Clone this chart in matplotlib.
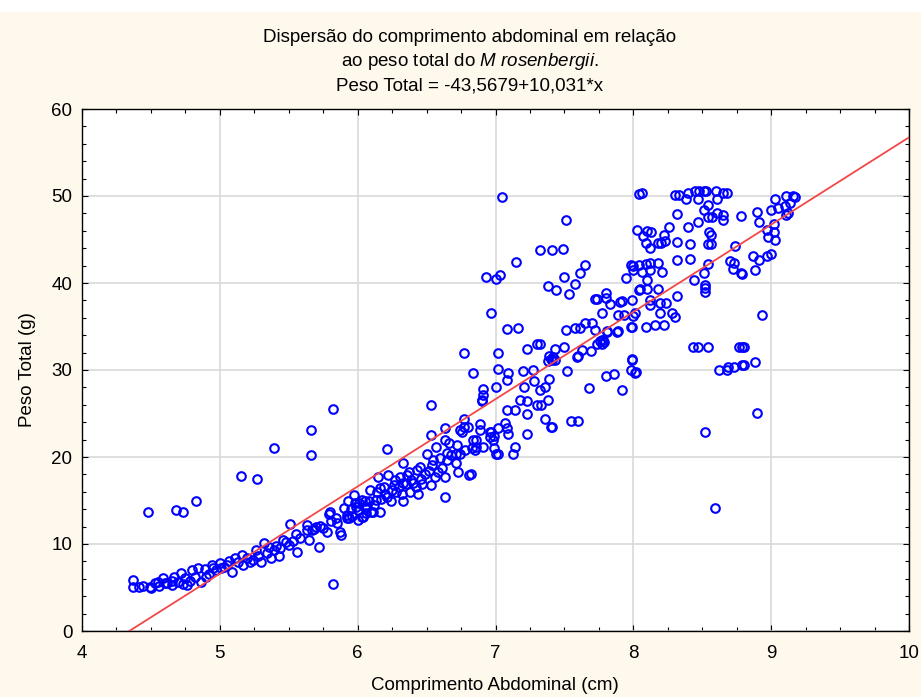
import numpy as np
import matplotlib
matplotlib.use("Agg")
import matplotlib.pyplot as plt
from matplotlib.ticker import MultipleLocator
from matplotlib.patches import Rectangle

plt.rcParams["font.family"] = ["Liberation Sans", "DejaVu Sans"]
plt.rcParams["mathtext.fontset"] = "custom"
plt.rcParams["mathtext.rm"] = "Liberation Sans"
plt.rcParams["mathtext.it"] = "Liberation Sans:italic"

# comprimento abdominal (cm) / peso total (g)
comprimento = [
    4.37, 4.37, 4.41, 4.44, 4.49, 4.50, 4.53, 4.55, 4.56, 4.59, 4.60, 4.62, 4.65, 4.65,
    4.67, 4.70, 4.72, 4.73, 4.75, 4.76, 4.78, 4.80, 4.82, 4.84, 4.86, 4.89, 4.90, 4.92,
    4.94, 4.95, 4.97, 5.00,
    4.48, 4.68, 4.735, 4.83, 5.15, 5.27, 5.39,
    5.01, 5.03, 5.05, 5.07, 5.09, 5.11, 5.13, 5.16, 5.17, 5.20, 5.22, 5.24, 5.26, 5.28,
    5.30, 5.32, 5.34, 5.36, 5.37, 5.39, 5.41, 5.43, 5.44, 5.46, 5.48, 5.50, 5.51, 5.53,
    5.55, 5.56, 5.58, 5.63, 5.63, 5.65, 5.67, 5.68, 5.70, 5.72, 5.73, 5.75, 5.78, 5.79,
    5.80, 5.81, 5.82, 5.84, 5.85, 5.87, 5.88, 5.90, 5.92, 5.92,
    5.66, 5.66, 5.82,
    5.93, 5.94, 5.95, 5.96, 5.97, 5.98, 5.99, 6.00, 6.00, 6.01, 6.03, 6.03, 6.04, 6.05,
    6.05, 6.06, 6.07, 6.08, 6.09, 6.10, 6.11, 6.12, 6.13, 6.14, 6.15, 6.16, 6.16, 6.17,
    6.19, 6.20, 6.21, 6.22, 6.24, 6.25, 6.26, 6.27, 6.28, 6.30, 6.31, 6.32, 6.33, 6.33,
    6.33, 6.35, 6.36, 6.37, 6.38, 6.39, 6.40, 6.42, 6.43, 6.44, 6.45, 6.46, 6.47, 6.49,
    6.50, 6.52, 6.53, 6.54, 6.55, 6.56, 6.57, 6.58,
    6.21, 6.53, 6.53, 6.63,
    6.60, 6.61, 6.63, 6.63, 6.63, 6.65, 6.65, 6.66, 6.68, 6.71, 6.71, 6.72, 6.73, 6.74,
    6.74, 6.76, 6.77, 6.77, 6.78, 6.80, 6.81, 6.82, 6.83, 6.84, 6.85, 6.86, 6.86, 6.89,
    6.89, 6.90, 6.91, 6.96, 6.96, 6.97, 6.98, 6.99, 6.99, 7.00,
    6.77, 6.84, 6.90, 6.91, 6.91, 6.93, 6.97, 7.00, 7.00, 7.02, 7.02, 7.02, 7.02, 7.03,
    7.05, 7.07, 7.08, 7.08, 7.08, 7.08, 7.09, 7.09, 7.13, 7.14, 7.14, 7.15, 7.16, 7.18,
    7.20, 7.21, 7.23, 7.23, 7.23, 7.23, 7.27, 7.28, 7.30, 7.30, 7.32, 7.32, 7.33, 7.32,
    7.36, 7.36, 7.38, 7.38, 7.39, 7.40, 7.41, 7.41, 7.44, 7.43,
    7.38, 7.40, 7.42, 7.43, 7.39, 7.41,
    7.49, 7.50, 7.50, 7.51, 7.51, 7.52, 7.53, 7.55, 7.58, 7.58, 7.59, 7.60, 7.61, 7.61,
    7.63, 7.65, 7.65, 7.68, 7.69, 7.70, 7.72, 7.72, 7.74, 7.77, 7.77, 7.80, 7.80, 7.80,
    7.81, 7.81, 7.83, 7.86, 7.88, 7.89, 7.89, 7.90, 7.92, 7.92, 7.93, 7.95, 7.98, 7.98,
    7.98, 7.99, 7.99, 7.99, 7.99, 8.00, 8.00, 8.00, 8.01, 8.01, 8.02, 8.03, 8.04, 8.04,
    8.04, 8.05, 8.06, 8.06, 8.07, 8.09, 8.09, 8.09, 8.10, 8.10, 8.10,
    7.74, 7.76, 7.78, 7.77, 7.79, 7.60,
    8.12, 8.12, 8.12, 8.12, 8.12, 8.13, 8.16, 8.18, 8.18, 8.18, 8.19, 8.19, 8.20, 8.21,
    8.22, 8.22, 8.23, 8.24, 8.26, 8.28, 8.30, 8.30, 8.32, 8.32, 8.32, 8.32, 8.33, 8.38,
    8.40, 8.40, 8.41, 8.41, 8.43, 8.44, 8.45, 8.47, 8.47, 8.47, 8.48, 8.51, 8.51, 8.51,
    8.52, 8.52, 8.52, 8.52, 8.53, 8.54, 8.54, 8.54, 8.54, 8.54, 8.55, 8.56, 8.56, 8.57,
    8.59, 8.60, 8.61, 8.61, 8.62, 8.65, 8.65, 8.65, 8.68, 8.68, 8.69, 8.70, 8.72, 8.73,
    8.73, 8.74, 8.77, 8.78, 8.78, 8.79, 8.79, 8.79, 8.80, 8.80,
    8.87, 8.88, 8.88, 8.90, 8.90, 8.91, 8.91, 8.93, 8.97, 8.97, 8.98, 9.00, 9.00, 9.02,
    9.02, 9.03, 9.03, 9.05, 9.10, 9.11, 9.11, 9.14, 9.16, 9.17, 9.12,
]
peso = [
    5.86, 5.10, 5.10, 5.17, 5.10, 5.00, 5.50, 5.60, 5.17, 6.06, 5.50, 5.50, 5.30, 5.80,
    6.25, 5.67, 6.70, 5.40, 6.06, 5.30, 5.80, 7.00, 6.25, 7.20, 5.67, 7.10, 6.20, 6.60,
    7.60, 7.20, 7.00, 7.80,
    13.7, 13.9, 13.7, 14.9, 17.85, 17.5, 21.0,
    7.2, 7.3, 7.6, 8.0, 6.8, 8.36, 7.9, 8.7, 7.6, 8.4, 7.9, 8.16, 9.3, 8.6,
    7.97, 10.1, 9.0, 9.7, 8.4, 9.3, 9.8, 8.6, 9.5, 10.5, 10.2, 9.9, 12.3, 10.4,
    11.2, 9.1, 10.65, 11.6, 12.2, 10.5, 11.6, 11.7, 12.0, 9.6, 12.1, 11.8, 11.4, 13.5,
    13.7, 12.6, 5.4, 12.95, 12.4, 11.4, 11.0, 14.1, 12.95, 13.3,
    23.1, 20.2, 25.5,
    15.0, 12.95, 14.0, 13.2, 15.6, 14.7, 14.3, 13.9, 12.8, 14.7, 15.1, 13.1, 13.1, 14.9,
    14.2, 13.6, 14.3, 15.0, 16.2, 13.7, 13.7, 14.5, 15.1, 16.0, 17.7, 13.7, 16.4, 15.2,
    16.6, 15.8, 15.4, 17.9, 14.9, 16.2, 16.8, 17.3, 16.0, 16.5, 17.7, 15.7, 17.0, 14.9,
    19.3, 16.9, 17.9, 18.3, 16.0, 17.4, 17.0, 16.5, 18.5, 15.8, 18.8, 17.5, 16.9, 18.1,
    20.4, 18.4, 16.8, 19.1, 19.6, 17.7, 21.2, 18.3,
    20.9, 26.0, 22.5, 15.4,
    19.85, 18.7, 17.7, 23.3, 21.95, 19.65, 20.5, 21.6, 20.2, 19.3, 20.4, 21.4, 18.3, 20.4,
    23.1, 22.9, 23.5, 24.4, 20.8, 23.5, 17.9, 18.05, 21.0, 21.95, 20.8, 21.2, 21.95, 23.1,
    23.8, 26.4, 21.2, 22.3, 22.9, 22.9, 21.95, 21.0, 22.4, 20.4,
    31.9, 29.7, 26.6, 27.8, 27.1, 40.7, 36.5, 28.1, 40.5, 31.9, 30.1, 20.4, 23.3, 40.9,
    49.9, 23.9, 23.3, 34.7, 28.8, 25.4, 29.7, 22.7, 20.3, 21.2, 25.4, 42.45, 34.8, 26.6,
    29.9, 28.1, 32.4, 26.4, 25.0, 22.7, 30.0, 28.7, 32.95, 26.0, 32.95, 27.7, 26.0, 43.8,
    28.0, 24.4, 26.6, 39.6, 29.0, 23.5, 23.5, 43.8, 39.2, 32.4,
    31.0, 31.3, 31.5, 31.1, 31.6, 31.2,
    43.9, 32.6, 40.7, 34.6, 47.2, 29.9, 38.7, 24.1, 34.8, 39.9, 31.5, 24.1, 34.8, 41.1,
    32.3, 35.4, 42.1, 27.9, 32.2, 35.4, 34.6, 38.2, 38.2, 36.5, 33.4, 38.8, 38.3, 29.3,
    34.4, 34.5, 37.55, 29.5, 34.4, 34.5, 36.3, 37.8, 37.9, 27.7, 36.3, 40.6, 35.0, 42.1,
    30.0, 31.2, 31.3, 38.0, 35.0, 36.2, 41.5, 41.9, 36.5, 29.7, 29.8, 46.1, 42.1, 50.2,
    39.2, 39.3, 41.3, 50.3, 45.4, 44.6, 42.2, 35.0, 46.0, 40.4, 39.3,
    33.0, 33.3, 33.5, 33.0, 33.2, 31.6,
    44.0, 42.3, 41.5, 38.1, 37.5, 45.9, 35.2, 44.65, 42.3, 39.3, 37.7, 36.5, 44.6, 41.3,
    45.5, 35.2, 44.8, 37.7, 46.4, 36.6, 36.1, 50.1, 47.9, 44.75, 42.6, 38.5, 50.1, 49.7,
    50.4, 46.4, 44.5, 42.8, 32.6, 40.3, 50.6, 49.7, 47.05, 32.6, 50.6, 50.6, 48.4, 41.1,
    39.8, 39.4, 39.0, 22.9, 50.6, 48.97, 47.6, 44.5, 42.2, 32.6, 45.9, 45.5, 44.5, 47.6,
    14.1, 50.6, 49.7, 48.0, 30.0, 50.4, 47.8, 47.2, 50.4, 30.0, 30.4, 42.5, 41.6, 42.3,
    30.4, 44.2, 32.6, 47.7, 41.1, 32.6, 30.6, 41.0, 32.7, 30.6,
    43.1, 41.5, 30.9, 48.2, 25.1, 47.05, 42.7, 36.3, 46.1, 43.1, 45.3, 48.4, 43.3, 45.9,
    46.8, 45.0, 49.7, 48.6, 48.8, 50.0, 47.8, 49.2, 50.0, 49.9, 48.0,
]

# fitted line: Peso Total = -43,5679 + 10,031*x
intercepto = -43.5679
inclinacao = 10.031

cream = "#fff8ec"
fs = 13.5
fig = plt.figure(figsize=(9.21, 6.97), dpi=100, facecolor=cream)
fig.patches.append(Rectangle((0, 1 - 12 / 697), 1, 12 / 697, transform=fig.transFigure,
                             facecolor="white", edgecolor="none", zorder=0))
ax = fig.add_axes([82 / 921, 1 - 631 / 697, 827 / 921, 522 / 697])
ax.set_facecolor("white")

ax.plot(comprimento, peso, linestyle="none", marker="o", markersize=6.2,
        markerfacecolor="none", markeredgecolor="#0000ff", markeredgewidth=1.5, zorder=3)

xl = np.array([-intercepto / inclinacao, 10.0])
ax.plot(xl, intercepto + inclinacao * xl, color="#f24848", linewidth=1.3, zorder=4)

ax.set_xlim(4, 10)
ax.set_ylim(0, 60)
ax.xaxis.set_major_locator(MultipleLocator(1))
ax.xaxis.set_minor_locator(MultipleLocator(0.25))
ax.yaxis.set_major_locator(MultipleLocator(10))
ax.yaxis.set_minor_locator(MultipleLocator(2))
ax.tick_params(which="both", direction="in", top=True, right=True, width=0.8, colors="black")
ax.tick_params(which="major", length=4, labelsize=fs)
ax.tick_params(axis="x", which="major", pad=10)
ax.tick_params(axis="y", which="major", pad=7)
ax.tick_params(which="minor", length=3)
ax.grid(True, which="major", color="#d9d9d9", linewidth=1.2, zorder=0)
ax.set_axisbelow(True)
for s in ax.spines.values():
    s.set_linewidth(1.0)
    s.set_color("black")

fig.text(495 / 921, 1 - 686 / 697, "Comprimento Abdominal (cm)",
         ha="center", va="center", fontsize=fs)
fig.text(27 / 921, 1 - 370 / 697, "Peso Total (g)", rotation=90,
         ha="center", va="center", fontsize=fs)

cx = 470 / 921
fig.text(cx, 1 - 37 / 697, "Dispersão do comprimento abdominal em relação",
         ha="center", va="center", fontsize=fs)
fig.text(cx, 1 - 61 / 697, r"ao peso total do $\mathit{M\ rosenbergii.}$",
         ha="center", va="center", fontsize=fs)
fig.text(cx, 1 - 86 / 697, "Peso Total = -43,5679+10,031*x",
         ha="center", va="center", fontsize=fs)

fig.savefig("out.png", dpi=100, facecolor=cream)
